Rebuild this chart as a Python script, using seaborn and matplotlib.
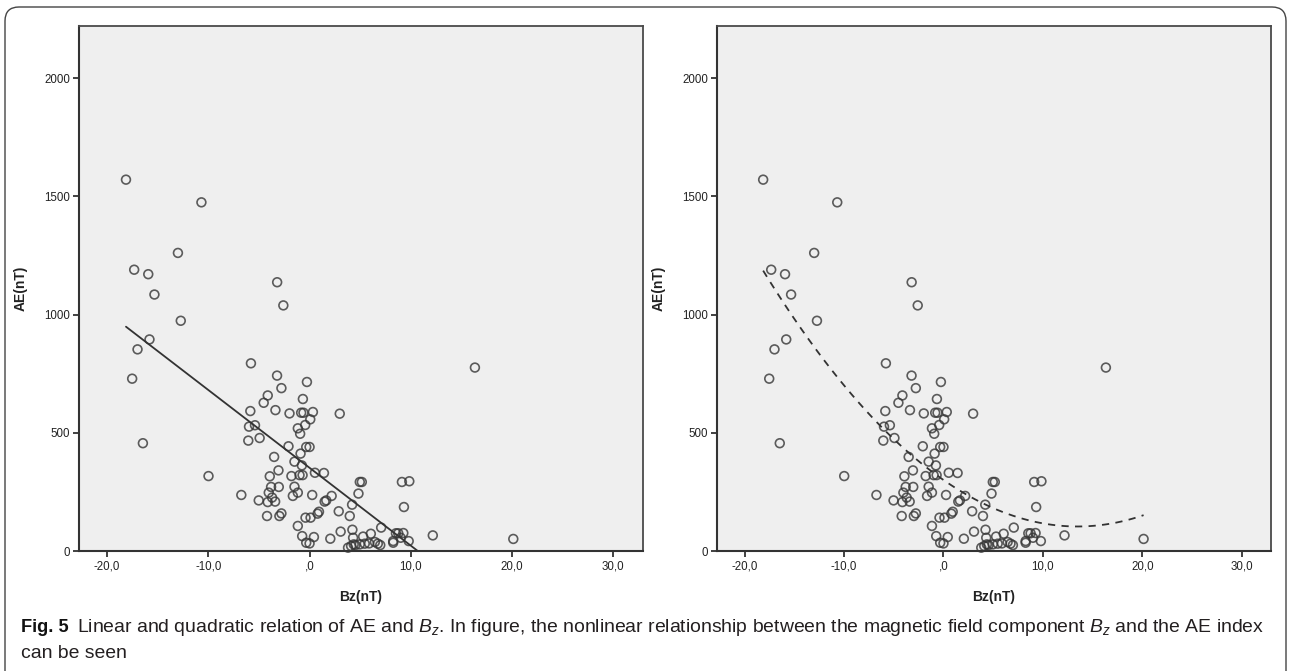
import numpy as np
import pandas as pd
import matplotlib
matplotlib.use("Agg")
import matplotlib.pyplot as plt
from matplotlib import font_manager
from matplotlib.patches import FancyBboxPatch
from matplotlib.transforms import IdentityTransform
import seaborn as sns

# ---------------- data ----------------
bz = [-18.13, -10.68, -13.0, -17.32, -15.93, -15.32, -3.2, -2.59, -12.72, -15.81,
      -16.99, -17.52, -16.46, 16.33, 20.12, -5.79, -3.21, -2.78, -0.26, -4.13,
      -4.53, -0.66, -5.85, -3.37, -1.98, -0.83, -0.6, 0.33, 2.98, 0.07,
      -0.43, -1.16, -0.93, -5.98, -5.39, -6.05, -4.93, -2.08, -0.33, 0.0,
      -0.89, -3.5, -1.49, -0.76, -9.98, -3.93, -3.07, -1.79, -0.99, -0.69,
      0.53, 1.42, 4.96, 5.16, 9.12, 9.85, -3.8, -4.03, -3.04, -6.74,
      -5.02, -4.13, -3.7, -3.4, -1.49, -1.65, -1.16, 0.26, 1.49, 1.65,
      2.18, 4.83, 4.2, 9.32, -4.2, -2.98, -2.78, -0.4, 0.1, 0.79,
      0.93, 2.88, 3.97, -1.16, -0.73, 0.43, -0.33, 0.0, 2.05, 3.07,
      4.23, 4.3, 3.8, 4.1, 4.36, 4.53, 5.29, 4.96, 5.45, 5.88,
      6.05, 6.45, 6.74, 6.98, 7.07, 8.26, 8.26, 8.53, 8.76, 9.0,
      9.26, 9.79, 12.17]
ae = [1571, 1475, 1261, 1190, 1171, 1085, 1137, 1039, 974, 895,
      853, 729, 456, 776, 51, 794, 742, 689, 715, 658,
      627, 643, 592, 596, 582, 585, 585, 588, 581, 557,
      533, 519, 496, 526, 532, 467, 478, 443, 440, 440,
      412, 398, 378, 362, 317, 316, 341, 317, 321, 321,
      331, 330, 292, 292, 292, 295, 271, 247, 271, 237,
      214, 207, 226, 209, 272, 233, 247, 237, 209, 214,
      233, 243, 196, 186, 148, 148, 159, 141, 141, 158,
      166, 168, 148, 106, 63, 59, 35, 32, 52, 82,
      90, 56, 14, 21, 28, 25, 61, 28, 31, 32,
      73, 38, 31, 25, 99, 42, 35, 75, 75, 56,
      76, 42, 66]
x_ticks = [-20, -10, 0, 10, 20, 30]
x_tick_labels = ["-20,0", "-10,0", ",0", "10,0", "20,0", "30,0"]
y_ticks = [0, 500, 1000, 1500, 2000]
y_tick_labels = ["0", "500", "1000", "1500", "2000"]
x_label = "Bz(nT)"
y_label = "AE(nT)"
fit_orders = [1, 2]
fit_styles = ["-", "--"]
caption_bold = "Fig. 5"
caption_line1 = ("Linear and quadratic relation of AE and $B_z$. In figure, the nonlinear "
                 "relationship between the magnetic field component $B_z$ and the AE index")
caption_line2 = "can be seen"

df = pd.DataFrame({"Bz": bz, "AE": ae})

# ---------------- fonts ----------------
sns.set_theme(style="white")
available = {f.name for f in font_manager.fontManager.ttflist}
narrow = "Liberation Sans Narrow" if "Liberation Sans Narrow" in available else None
tick_family = [narrow, "DejaVu Sans"] if narrow else ["Liberation Sans", "DejaVu Sans"]
cap_family = tick_family
cap_size = 12.5 if narrow else 13.95
plt.rcParams["font.family"] = ["Liberation Sans", "DejaVu Sans"]
plt.rcParams["mathtext.fontset"] = "custom"
plt.rcParams["mathtext.it"] = "Liberation Sans:italic"
plt.rcParams["mathtext.rm"] = "Liberation Sans"

fig = plt.figure(figsize=(12.9, 6.71), dpi=100)
fig.patch.set_facecolor("white")

W, H = 1290.0, 671.0
panel_px = [(79, 643), (717, 1271)]
top_px, bot_px = 26, 551

edge_col = "#363636"
for (x0, x1), order, ls in zip(panel_px, fit_orders, fit_styles):
    ax = fig.add_axes([x0 / W, (H - bot_px) / H, (x1 - x0) / W, (bot_px - top_px) / H])
    ax.set_facecolor("#efefef")
    sns.regplot(data=df, x="Bz", y="AE", order=order, ci=None, ax=ax,
                scatter_kws=dict(s=40, facecolors="none", edgecolors=edge_col,
                                 linewidths=1.2, marker="o", clip_on=False, zorder=3),
                line_kws=dict(color="#333333", lw=1.3, ls=ls,
                              dashes=(4, 3.5) if ls == "--" else (None, None), zorder=4))
    ax.set_xlim(-22.77, 32.93)
    ax.set_ylim(0, 2221)
    ax.set_xticks(x_ticks)
    ax.set_xticklabels(x_tick_labels, family=tick_family, fontsize=8.3, color="#222222")
    ax.set_yticks(y_ticks)
    ax.set_yticklabels(y_tick_labels, family=tick_family, fontsize=8.3, color="#222222")
    ax.tick_params(axis="both", which="major", direction="out", length=4.5, width=1.3,
                   color="#333333", pad=2, bottom=True, left=True, top=False, right=False)
    for side, sp in ax.spines.items():
        sp.set_visible(True)
        sp.set_color("#4a4a4a")
        sp.set_linewidth(1.3)
    ax.spines["left"].set_color("#333333")
    ax.spines["bottom"].set_color("#333333")
    ax.spines["left"].set_linewidth(1.5)
    ax.spines["bottom"].set_linewidth(1.5)
    ax.set_xlabel(x_label, fontsize=10, fontweight="bold", color="#222222", labelpad=13)
    ax.set_ylabel(y_label, fontsize=10, fontweight="bold", color="#222222", labelpad=12)

# caption
t1 = fig.text(21 / W, 1 - 627 / H, caption_bold, fontsize=cap_size - 0.8, fontweight="bold",
              family=["Liberation Sans", "DejaVu Sans"], color="#111111", va="center", ha="left")
fig.canvas.draw()
bb = t1.get_window_extent()
fig.text((bb.x1 + 8) / W, 1 - 627 / H, caption_line1, fontsize=cap_size, family=cap_family,
         color="#231f20", va="center", ha="left")
fig.text(21 / W, 1 - 654 / H, caption_line2, fontsize=cap_size, family=cap_family,
         color="#231f20", va="center", ha="left")

# rounded figure frame (open at bottom)
frame = FancyBboxPatch((5, -40), 1281, (H - 7) + 40, boxstyle="round,pad=0,rounding_size=14",
                       transform=IdentityTransform(), fill=False, edgecolor="#444444",
                       lw=1.0, figure=fig)
fig.patches.append(frame)

fig.savefig("out.png", dpi=100, facecolor="white")
